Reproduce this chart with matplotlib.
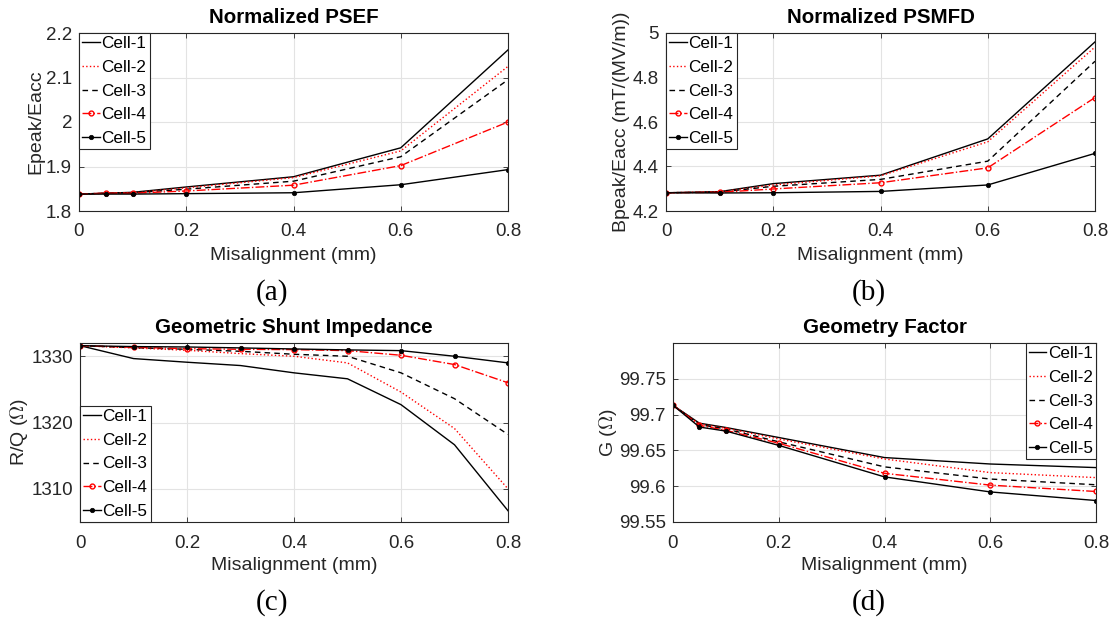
import matplotlib
matplotlib.use("Agg")
import matplotlib.pyplot as plt
from matplotlib.ticker import FuncFormatter

plt.rcParams['font.family'] = ['Liberation Sans', 'DejaVu Sans']
plt.rcParams['mathtext.fontset'] = 'cm'

labels = ['Cell-1', 'Cell-2', 'Cell-3', 'Cell-4', 'Cell-5']

# (a) Normalized PSEF
x_a = [0, 0.05, 0.1, 0.2, 0.4, 0.6, 0.8]
psef = [
    [1.838, 1.840, 1.842, 1.854, 1.877, 1.942, 2.162],
    [1.838, 1.840, 1.841, 1.852, 1.875, 1.935, 2.125],
    [1.838, 1.840, 1.841, 1.849, 1.867, 1.922, 2.095],
    [1.838, 1.840, 1.840, 1.845, 1.858, 1.902, 2.000],
    [1.838, 1.838, 1.838, 1.839, 1.841, 1.859, 1.893],
]

# (b) Normalized PSMFD
x_b = [0, 0.1, 0.2, 0.4, 0.6, 0.8]
psmfd = [
    [4.282, 4.287, 4.323, 4.361, 4.524, 4.960],
    [4.282, 4.286, 4.317, 4.358, 4.511, 4.937],
    [4.282, 4.285, 4.311, 4.342, 4.424, 4.873],
    [4.282, 4.284, 4.299, 4.327, 4.394, 4.710],
    [4.282, 4.281, 4.282, 4.288, 4.317, 4.459],
]

# (c) Geometric Shunt Impedance
x_c = [0, 0.1, 0.2, 0.3, 0.4, 0.5, 0.6, 0.7, 0.8]
rq = [
    [1331.6, 1329.65, 1329.1, 1328.6, 1327.5, 1326.6, 1322.7, 1316.65, 1306.7],
    [1331.6, 1331.26, 1330.9, 1330.4, 1330.0, 1329.0, 1324.6, 1319.1, 1310.0],
    [1331.6, 1331.3, 1331.05, 1330.75, 1330.3, 1330.0, 1327.5, 1323.6, 1318.2],
    [1331.6, 1331.35, 1331.15, 1331.05, 1331.0, 1330.85, 1330.15, 1328.75, 1326.0],
    [1331.6, 1331.46, 1331.4, 1331.26, 1331.1, 1330.96, 1330.85, 1330.0, 1329.0],
]

# (d) Geometry Factor
x_d = [0, 0.05, 0.1, 0.2, 0.4, 0.6, 0.8]
gf = [
    [99.713, 99.688, 99.682, 99.668, 99.640, 99.631, 99.626],
    [99.713, 99.687, 99.681, 99.666, 99.638, 99.619, 99.612],
    [99.713, 99.686, 99.680, 99.662, 99.627, 99.610, 99.602],
    [99.713, 99.685, 99.678, 99.660, 99.618, 99.6015, 99.5926],
    [99.713, 99.6826, 99.677, 99.657, 99.613, 99.592, 99.580],
]

xticks = [0, 0.2, 0.4, 0.6, 0.8]

styles = [
    dict(color='black', ls='-', lw=1.0),
    dict(color='red', ls=':', lw=1.0),
    dict(color='black', ls=(0, (4, 3)), lw=1.0),
    dict(color='red', ls='-.', lw=1.0, marker='o', ms=3.5, mfc='none', mew=1.0),
    dict(color='black', ls='-', lw=1.0, marker='o', ms=3.2, mfc='black', mew=0.5),
]

TXT = '#262626'
W, H = 1117, 621
fig = plt.figure(figsize=(W / 100, H / 100), dpi=100)


def px_axes(l, t, r, b):
    return fig.add_axes([l / W, 1 - b / H, (r - l) / W, (b - t) / H])


gfmt = FuncFormatter(lambda v, p: '%g' % round(v, 4))

panels = [
    dict(box=(79, 33, 508, 211), x=x_a, ys=psef, title='Normalized PSEF', ylabel='Epeak/Eacc',
         ylim=(1.8, 2.2), yticks=[1.8, 1.9, 2.0, 2.1, 2.2], loc='upper left', ylx=36, xly=255,
         tag='(a)', tagx=272, tagy=293),
    dict(box=(666, 33, 1095, 211), x=x_b, ys=psmfd, title='Normalized PSMFD', ylabel='Bpeak/Eacc (mT/(MV/m))',
         ylim=(4.2, 5.0), yticks=[4.2, 4.4, 4.6, 4.8, 5.0], loc='upper left', ylx=622, xly=255,
         tag='(b)', tagx=869, tagy=293),
    dict(box=(80, 343, 508, 522), x=x_c, ys=rq, title='Geometric Shunt Impedance', ylabel=r'R/Q ($\Omega$)',
         ylim=(1305, 1332), yticks=[1310, 1320, 1330], loc='lower left', ylx=19, xly=565,
         tag='(c)', tagx=272, tagy=603),
    dict(box=(673, 343, 1096, 522), x=x_d, ys=gf, title='Geometry Factor', ylabel=r'G ($\Omega$)',
         ylim=(99.55, 99.80), yticks=[99.55, 99.6, 99.65, 99.7, 99.75], loc='upper right', ylx=608, xly=565,
         tag='(d)', tagx=869, tagy=603),
]

for p in panels:
    l, t, r, b = p['box']
    ax = px_axes(l, t, r, b)
    for ys, lab, st in zip(p['ys'], labels, styles):
        ax.plot(p['x'], ys, label=lab, **st)
    ax.set_xlim(0, 0.8)
    ax.set_ylim(*p['ylim'])
    ax.set_xticks(xticks)
    ax.set_yticks(p['yticks'])
    ax.xaxis.set_major_formatter(gfmt)
    ax.yaxis.set_major_formatter(gfmt)
    ax.grid(True, color='#e3e3e3', lw=0.8)
    ax.set_axisbelow(True)
    ax.tick_params(direction='in', length=3.5, width=0.6, top=True, right=True,
                   labelsize=13.5, colors=TXT, pad=5)
    ax.tick_params(axis='x', pad=9)
    for s in ax.spines.values():
        s.set_color(TXT)
        s.set_linewidth(0.8)
    ax.set_title(p['title'], fontsize=14.8, fontweight='bold', color='black', pad=7)
    xl = ax.set_xlabel('Misalignment (mm)', fontsize=14, color=TXT)
    ax.xaxis.set_label_coords(0.5, -(p['xly'] - b) / (b - t))
    xl.set_va('center')
    yl = ax.set_ylabel(p['ylabel'], fontsize=14, color=TXT)
    ax.yaxis.set_label_coords((p['ylx'] - l) / (r - l), 0.5)
    yl.set_va('center')
    leg = ax.legend(loc=p['loc'], fontsize=12.3, handlelength=1.0, handletextpad=0.1,
                    borderpad=0.2, labelspacing=0.5, borderaxespad=0, fancybox=False,
                    framealpha=1, edgecolor=TXT)
    leg.get_frame().set_linewidth(0.8)
    fig.text(p['tagx'] / W, 1 - p['tagy'] / H, p['tag'], fontsize=21, family='Liberation Serif',
             ha='center', va='center', color='black')

fig.savefig('out.png', dpi=100)
